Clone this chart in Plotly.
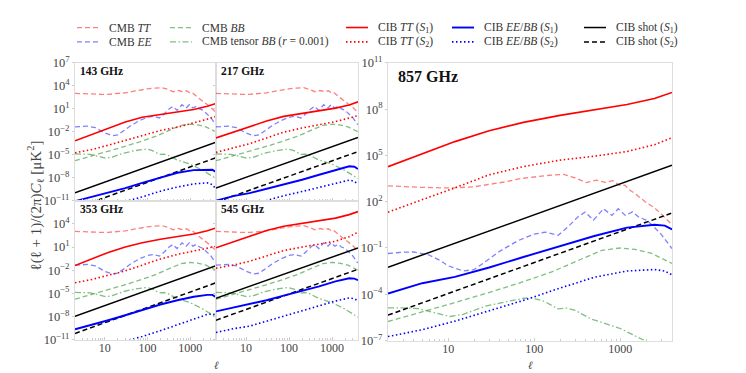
import math

import plotly.graph_objects as go

W, H = 746, 373
# the page body adds an 8px margin, positions below are given in screen pixels
OX, OY = 8, 8
FONT = "Liberation Serif"

# ---- CMB spectra, l(l+1)C_l/2pi in muK^2 (same curves in every panel)
CMB_TT_L = [2, 3, 5, 8, 12, 20, 30, 45, 70, 100, 150, 220, 300, 400, 530, 670, 820,
            1000, 1130, 1300, 1500, 2000, 2500, 3000, 3500, 4000]
CMB_TT = [1070, 950, 850, 800, 800, 930, 1260, 1900, 3200, 4200, 5200, 5900, 3500, 1750,
          2500, 1800, 2300, 1100, 1200, 560, 320, 90, 40, 16, 7, 3.2]

CMB_EE_L = [2, 3, 4, 6, 8, 10, 15, 20, 27, 40, 65, 100, 135, 190, 250, 320, 390, 490,
            640, 800, 950, 1150, 1390, 1650, 2000, 2330, 3000, 3800, 4000]
CMB_EE = [0.044, 0.054, 0.055, 0.035, 0.016, 0.007, 0.0032, 0.004, 0.0126, 0.063, 0.3,
          0.8, 1.07, 0.66, 2.5, 10, 21, 6.5, 35, 13, 35, 13, 22, 10, 6.5, 3.2, 0.76,
          0.115, 0.09]

CMB_BB_L = [2, 4.5, 11, 27, 65, 160, 390, 610, 1000, 1500, 2330, 3800, 4000]
CMB_BB = [1.7e-6, 5.9e-6, 2.5e-5, 1.1e-4, 5e-4, 2.8e-3, 0.025, 0.07, 0.1, 0.08, 0.044,
          0.0115, 0.01]

CMB_TENSOR_L = [2, 3, 4.5, 7, 10.5, 15, 27, 50, 76, 95, 130, 190, 240, 300, 460, 1000,
                2000, 4000]
CMB_TENSOR = [1.3e-5, 1.3e-5, 1.15e-5, 6.3e-6, 3.6e-6, 5e-6, 1.66e-5, 3.5e-5, 5.5e-5,
              5.75e-5, 3.5e-5, 1.12e-5, 1.26e-5, 8.9e-6, 2.5e-6, 6e-7, 8.9e-8, 7.9e-9]

# ---- CIB spectra per frequency
CIB_L = [2, 5, 12, 30, 75, 200, 500, 1200, 2500, 3300, 4000]
SHOT_L = [2, 4000]

CIB_TT_S1 = {
    143: [6.8e-4, 4.5e-3, 3.2e-2, 0.2, 0.8, 2.0, 4.0, 8.5, 22, 38, 52],
    217: [1.6e-3, 8.9e-3, 5.2e-2, 0.26, 1.05, 2.6, 5.6, 12.6, 32, 56, 83],
    353: [0.04, 0.28, 2.0, 10, 35, 100, 224, 500, 1260, 2240, 3000],
    545: [7.9, 45, 280, 1400, 5000, 1.26e4, 2.5e4, 5.6e4, 1.6e5, 2.8e5, 4.0e5],
    857: [1.86e4, 1.23e5, 7.9e5, 4.0e6, 1.4e7, 4.0e7, 8.9e7, 2.0e8, 5.0e8, 8.9e8, 1.23e9],
}
CIB_TT_S2 = {
    143: [1.8e-5, 5.0e-5, 1.8e-4, 7.9e-4, 3.5e-3, 0.015, 0.04, 0.14, 0.45, 0.8, 1.0],
    217: [2.1e-5, 7.1e-5, 2.8e-4, 1.6e-3, 9.1e-3, 0.032, 0.089, 0.22, 0.63, 1.0, 1.35],
    353: [2.3e-4, 6.3e-4, 2.2e-3, 7.9e-3, 0.045, 0.28, 1.1, 2.8, 6.3, 9.3, 12],
    545: [0.018, 0.045, 0.14, 0.63, 3.5, 10, 25, 56, 220, 500, 830],
    857: [21, 130, 800, 5600, 1.9e4, 5.0e4, 8.9e4, 1.8e5, 5.0e5, 9.3e5, 1.4e6],
}
CIB_EB_S1 = {
    143: [8.9e-12, 3.5e-11, 1.1e-10, 4.5e-10, 2.2e-9, 1.1e-8, 4.5e-8, 1.0e-7, 1.26e-7, 1.1e-7, 5.6e-8],
    217: [1e-11, 4e-11, 1e-10, 3.5e-10, 1.26e-9, 5.6e-9, 2.5e-8, 1.1e-7, 3.2e-7, 2.8e-7, 1.4e-7],
    353: [2.1e-10, 7.9e-10, 3.2e-9, 1.4e-8, 7.1e-8, 3.5e-7, 1.26e-6, 3.5e-6, 6.3e-6, 6.3e-6, 3.2e-6],
    545: [4.5e-8, 1.4e-7, 4e-7, 1.26e-6, 5e-6, 2e-5, 7.9e-5, 3.5e-4, 8.9e-4, 7.9e-4, 5e-4],
    857: [1.1e-4, 5.2e-4, 1.35e-3, 5.4e-3, 0.026, 0.13, 0.6, 2.1, 3.2, 2.8, 1.6],
}
CIB_EB_S2 = {
    143: [1.26e-13, 5e-13, 2e-12, 8.9e-12, 3.2e-11, 1.8e-10, 6.3e-10, 1.6e-9, 2.2e-9, 1.26e-9, 3.2e-10],
    217: [1.26e-13, 5e-13, 2.5e-12, 1.1e-11, 4.5e-11, 1.6e-10, 5.6e-10, 2e-9, 5e-9, 3.5e-9, 1.4e-9],
    353: [1.6e-13, 6.3e-13, 2e-12, 6.3e-12, 2.5e-11, 1.4e-10, 7.9e-10, 5e-9, 1.8e-8, 2e-8, 1.6e-8],
    545: [8.3e-11, 2.5e-10, 5.4e-10, 2.5e-9, 1e-8, 5.6e-8, 2.5e-7, 1e-6, 2.5e-6, 2e-6, 1e-6],
    857: [1.8e-7, 5e-7, 1.8e-6, 8.9e-6, 4e-5, 2.5e-4, 1.26e-3, 3.2e-3, 4e-3, 3.2e-3, 1.8e-3],
}
SHOT_S1 = {143: [1.1e-10, 4.4e-4], 217: [4.7e-10, 1.8e-3], 353: [1e-8, 0.038],
           545: [2.3e-6, 7.6], 857: [5.6e-3, 2.3e4]}
SHOT_S2 = {143: [1.05e-12, 4.2e-6], 217: [6.6e-12, 2.6e-5], 353: [6.2e-11, 2.3e-4],
           545: [3.2e-9, 0.013], 857: [4.4e-6, 18.6]}

# series styles: (label, colour, dash, width)
STYLE = {
    "tt": ("CMB <i>TT</i>", "rgba(255,0,0,0.5)", "5px,3px", 1.3),
    "ee": ("CMB <i>EE</i>", "rgba(0,0,255,0.5)", "5px,3px", 1.3),
    "bb": ("CMB <i>BB</i>", "rgba(0,128,0,0.5)", "5px,3px", 1.3),
    "tensor": ("CMB tensor <i>BB</i> (<i>r</i> = 0.001)", "rgba(0,128,0,0.5)", "6px,2.5px,1.5px,2.5px", 1.3),
    "tt1": ("CIB <i>TT</i> (<i>S</i><sub>1</sub>)", "#ff0000", "solid", 1.6),
    "tt2": ("CIB <i>TT</i> (<i>S</i><sub>2</sub>)", "#ff0000", "1.5px,2.5px", 1.6),
    "eb1": ("CIB <i>EE</i>/<i>BB</i> (<i>S</i><sub>1</sub>)", "#0000ff", "solid", 1.9),
    "eb2": ("CIB <i>EE</i>/<i>BB</i> (<i>S</i><sub>2</sub>)", "#0000ff", "1.5px,2.5px", 1.6),
    "sh1": ("CIB shot (<i>S</i><sub>1</sub>)", "#000000", "solid", 1.5),
    "sh2": ("CIB shot (<i>S</i><sub>2</sub>)", "#000000", "5px,3px", 1.5),
}

# legend layout: columns of (top key, bottom key)
LEGEND_COLS = [("tt", "ee"), ("bb", "tensor"), ("tt1", "tt2"), ("eb1", "eb2"), ("sh1", "sh2")]
LEGEND_X = [77, 170, 346, 452, 584]
LEGEND_Y = [19, 34]

# panels: freq -> (left, right, top, bottom) in screen px
PANELS = {
    143: (75, 216, 56, 200),
    217: (216, 358, 56, 200),
    353: (75, 216, 200, 345),
    545: (216, 358, 200, 345),
    857: (388, 672, 56, 346),
}


def px(x):
    return (x - OX) / W


def py(y):
    return 1 - (y - OY) / H


def sup(e):
    s = str(e).replace("-", "\u2212")
    return f"10<sup>{s}</sup>"


fig = go.Figure()
layout = {}
ann = []
shapes = []
ytickfont = dict(family=FONT, size=12.5, color="#444")
xtickfont = dict(family=FONT, size=12, color="#444")

for i, (freq, (l, r, t, b)) in enumerate(PANELS.items(), start=1):
    xa = "x" if i == 1 else f"x{i}"
    ya = "y" if i == 1 else f"y{i}"
    big = freq == 857
    series = [
        ("tt", CMB_TT_L, CMB_TT), ("ee", CMB_EE_L, CMB_EE), ("bb", CMB_BB_L, CMB_BB),
        ("tensor", CMB_TENSOR_L, CMB_TENSOR),
        ("tt1", CIB_L, CIB_TT_S1[freq]), ("tt2", CIB_L, CIB_TT_S2[freq]),
        ("sh1", SHOT_L, SHOT_S1[freq]), ("sh2", SHOT_L, SHOT_S2[freq]),
        ("eb1", CIB_L, CIB_EB_S1[freq]), ("eb2", CIB_L, CIB_EB_S2[freq]),
    ]
    for key, xs, ys in series:
        name, col, dash, w = STYLE[key]
        fig.add_trace(go.Scatter(
            x=xs, y=ys, mode="lines", xaxis=xa, yaxis=ya, name=name, showlegend=False,
            line=dict(color=col, dash=dash, width=w),
        ))

    show_x = freq in (353, 545, 857)
    layout["xaxis" if i == 1 else f"xaxis{i}"] = dict(
        domain=[px(l), px(r)], anchor=ya, type="log",
        range=[math.log10(2), math.log10(4000)],
        tickvals=[10, 100, 1000], ticktext=["10", "100", "1000"],
        showticklabels=show_x, tickfont=xtickfont, ticklabelstandoff=-3,
        ticks="inside", ticklen=3, tickcolor="#cccccc",
        minor=dict(ticks="inside", ticklen=2, tickcolor="#cccccc", dtick="D1", showgrid=False),
        showline=True, mirror=True, linecolor="#dddddd", linewidth=1,
        showgrid=False, zeroline=False,
    )
    if big:
        ylo, yhi = -7, 11
        exps = [11, 8, 5, 2, -1, -4, -7]
    else:
        ylo, yhi = -11, 7
        exps = [7, 4, 1, -2, -5, -8, -11] if freq == 143 else [4, 1, -2, -5, -8, -11]
    layout["yaxis" if i == 1 else f"yaxis{i}"] = dict(
        domain=[py(b), py(t)], anchor=xa, type="log", range=[ylo, yhi],
        tickvals=[10.0 ** e for e in exps], ticktext=[sup(e) for e in exps],
        showticklabels=freq in (143, 353, 857), tickfont=ytickfont,
        ticks="outside", ticklen=2, tickcolor="#cccccc",
        showline=True, mirror=True, linecolor="#dddddd", linewidth=1,
        showgrid=False, zeroline=False,
    )
    ann.append(dict(
        text=f"<b>{freq} GHz</b>", xref="paper", yref="paper",
        x=px(l + (8 if big else 3)), y=py(t + (14 if big else 8.5)),
        xanchor="left", yanchor="middle", showarrow=False,
        font=dict(family=FONT, size=16 if big else 11.5, color="#111"),
    ))

# axis titles
for xc in (216, 530):
    ann.append(dict(text="<i>\u2113</i>", xref="paper", yref="paper", x=px(xc), y=py(372),
                    xanchor="center", yanchor="middle", showarrow=False,
                    font=dict(family=FONT, size=11, color="#444")))
ann.append(dict(
    text="\u2113(\u2113 + 1)/(2\u03c0)<i>C</i><sub>\u2113</sub> [\u03bcK<sup>2</sup>]",
    xref="paper", yref="paper", x=px(35), y=py(205), textangle=-90,
    xanchor="center", yanchor="middle",
    showarrow=False, font=dict(family=FONT, size=15, color="#444"),
))

# legend drawn by hand: two rows x five columns
for (k_top, k_bot), lx in zip(LEGEND_COLS, LEGEND_X):
    for key, ly in zip((k_top, k_bot), LEGEND_Y):
        name, col, dash, w = STYLE[key]
        shapes.append(dict(type="line", xref="paper", yref="paper",
                           x0=px(lx), x1=px(lx + 22), y0=py(ly), y1=py(ly),
                           line=dict(color=col, dash=dash, width=w)))
        ann.append(dict(text=name, xref="paper", yref="paper", x=px(lx + 30),
                        y=py(ly), xanchor="left", yanchor="middle", showarrow=False,
                        font=dict(family=FONT, size=11.5, color="#333")))

fig.update_layout(
    width=W, height=H, margin=dict(l=0, r=0, t=0, b=0),
    paper_bgcolor="white", plot_bgcolor="white",
    annotations=ann, shapes=shapes, showlegend=False,
    font=dict(family=FONT),
    **layout,
)

fig.write_html("out.html")
